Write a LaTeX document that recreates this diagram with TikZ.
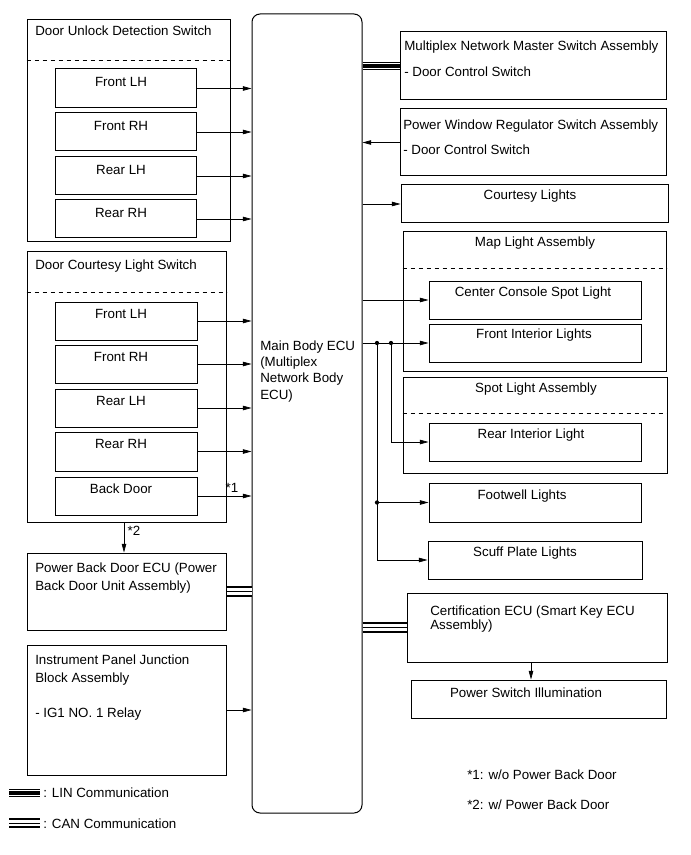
\documentclass[tikz,border=0pt]{standalone}
\usepackage{fontspec}
\setmainfont{Liberation Sans}
\usetikzlibrary{fit,arrows.meta,calc}
\begin{document}
\begin{tikzpicture}[x=0.75pt,y=-0.75pt,
  box/.style={draw, line width=0.75pt, inner sep=0pt},
  txt/.style={inner sep=0pt, text height=7.16pt, text depth=0pt, font=\fontsize{10}{12}\selectfont},
  lt/.style={txt, anchor=west},
  ct/.style={txt, anchor=center},
  arr/.style={line width=0.5pt, -{Triangle[length=6.5pt,width=3.4pt]}},
  ln/.style={line width=0.5pt},
  dsh/.style={line width=0.75pt, dash pattern=on 3.6pt off 2.4pt},
  linbus/.style={double=white, double distance=4.6pt, line width=0.8pt},
  linmid/.style={line width=3.4pt},
  canbus/.style={double=white, double distance=5.0pt, line width=1.3pt},
  canmid/.style={line width=0.55pt},
  jdot/.style={fill, circle, inner sep=0pt, minimum size=3.2pt}]
\useasboundingbox (0,0) rectangle (691,855);

% main ECU
\node[box, rounded corners=6pt, fit={(252,14) (362,813)}] (ecu) {};
\node[lt] (e1) at (260,346) {Main Body ECU};
\node[lt] (e2) at (260,362) {(Multiplex};
\node[lt] (e3) at (260,378) {Network Body};
\node[lt] (e4) at (260,395) {ECU)};

% Door Unlock Detection Switch
\node[box, fit={(27,20) (230,242)}] (duds) {};
\node[lt] (dudst) at (35,31) {Door Unlock Detection Switch};
\draw[dsh] (duds.west |- 0,61) -- (duds.east |- 0,61);
\node[box, fit={(55,69) (196,108)}] (u1) {};
\node[box, fit={(55,113) (196,151)}] (u2) {};
\node[box, fit={(55,157) (196,195)}] (u3) {};
\node[box, fit={(55,200) (196,238)}] (u4) {};
\node[ct] (u1t) at (121,82) {Front LH};
\node[ct] (u2t) at (121,126) {Front RH};
\node[ct] (u3t) at (121,170) {Rear LH};
\node[ct] (u4t) at (121,213) {Rear RH};
\foreach \n in {u1,u2,u3,u4} \draw[arr] (\n.east) -- (\n.east -| ecu.west);

% Door Courtesy Light Switch
\node[box, fit={(27,252) (226,522)}] (dcs) {};
\node[lt] (dcst) at (35,265) {Door Courtesy Light Switch};
\draw[dsh] (dcs.west |- 0,292) -- (dcs.east |- 0,292);
\node[box, fit={(55,302) (197,340)}] (c1) {};
\node[box, fit={(55,345) (197,383)}] (c2) {};
\node[box, fit={(55,389) (197,427)}] (c3) {};
\node[box, fit={(55,432) (197,471)}] (c4) {};
\node[box, fit={(55,477) (197,515)}] (c5) {};
\node[ct] (c1t) at (121,314) {Front LH};
\node[ct] (c2t) at (121,357) {Front RH};
\node[ct] (c3t) at (121,401) {Rear LH};
\node[ct] (c4t) at (121,444) {Rear RH};
\node[ct] (c5t) at (121,489) {Back Door};
\foreach \n in {c1,c2,c3,c4,c5} \draw[arr] (\n.east) -- (\n.east -| ecu.west);
\node[ct] (n1) at (232,488) {*1};

% Power Back Door ECU
\node[box, fit={(27,553) (226,630)}] (pbd) {};
\node[lt] (pbd1) at (35,568) {Power Back Door ECU (Power};
\node[lt] (pbd2) at (35,586) {Back Door Unit Assembly)};
\coordinate (x2) at (124,0);
\draw[arr] (dcs.south -| x2) -- (pbd.north -| x2);
\node[ct] (n2) at (134,531) {*2};
\draw[canbus] (pbd.east) -- (pbd.east -| ecu.west);
\draw[canmid] (pbd.east) -- (pbd.east -| ecu.west);

% Instrument Panel J/B
\node[box, fit={(27,645) (226,775)}] (ipj) {};
\node[lt] (ipj1) at (35,660) {Instrument Panel Junction};
\node[lt] (ipj2) at (35,678) {Block Assembly};
\node[lt] (ipj3) at (35,713) {- IG1 NO. 1 Relay};
\draw[arr] (ipj.east) -- (ipj.east -| ecu.west);

% legend
\coordinate (la) at (9,793); \coordinate (lb) at (40,793);
\draw[linbus] (la) -- (lb); \draw[linmid] (la) -- (lb);
\node[lt] (lint) at (43,793) {: LIN Communication};
\coordinate (ca) at (9,823); \coordinate (cb) at (40,823);
\draw[canbus] (ca) -- (cb); \draw[canmid] (ca) -- (cb);
\node[lt] (cant) at (43,824) {: CAN Communication};

% right side
\node[box, fit={(400,32) (666,100)}] (mm) {};
\node[lt] (mm1) at (404,46) {Multiplex Network Master Switch Assembly};
\node[lt] (mm2) at (404,72) {- Door Control Switch};
\draw[linbus] (ecu.east |- mm.west) -- (mm.west);
\draw[linmid] (ecu.east |- mm.west) -- (mm.west);

\node[box, fit={(400,109) (666,176)}] (pw) {};
\node[lt] (pw1) at (403,125) {Power Window Regulator Switch Assembly};
\node[lt] (pw2) at (403,150) {- Door Control Switch};
\draw[arr] (pw.west) -- (pw.west -| ecu.east);

\node[box, fit={(401,185) (668,223)}] (cl) {};
\node[ct] (clt) at (530,195) {Courtesy Lights};
\draw[arr] (ecu.east |- cl.west) -- (cl.west);

\node[box, fit={(403,232) (666,371)}] (mla) {};
\node[ct] (mlat) at (535,242) {Map Light Assembly};
\draw[dsh] (mla.west |- 0,269) -- (mla.east |- 0,269);
\node[box, fit={(429,281) (641,319)}] (ccs) {};
\node[ct] (ccst) at (533,292) {Center Console Spot Light};
\node[box, fit={(429,324) (641,362)}] (fil) {};
\node[ct] (filt) at (534,334) {Front Interior Lights};
\draw[arr] (ecu.east |- ccs.west) -- (ccs.west);
\draw[arr] (ecu.east |- fil.west) -- (fil.west);

\node[box, fit={(403,377) (667,473)}] (sla) {};
\node[ct] (slat) at (536,388) {Spot Light Assembly};
\draw[dsh] (sla.west |- 0,413) -- (sla.east |- 0,413);
\node[box, fit={(429,423) (641,461)}] (ril) {};
\node[ct] (rilt) at (531,434) {Rear Interior Light};

\node[box, fit={(429,483) (641,522)}] (fw) {};
\node[ct] (fwt) at (522,495) {Footwell Lights};
\node[box, fit={(428,541) (642,579)}] (sp) {};
\node[ct] (spt) at (525,552) {Scuff Plate Lights};

\coordinate (xj1) at (377,0);
\coordinate (xj2) at (391,0);
\coordinate (j1) at (fil.west -| xj1);
\coordinate (j2) at (fil.west -| xj2);
\coordinate (j3) at (fw.west -| xj1);
\draw[arr] (j2) |- (ril.west);
\draw[arr] (j1) |- (sp.west);
\draw[arr] (j3) -- (fw.west);
\node[jdot] (d1) at (j1) {};
\node[jdot] (d2) at (j2) {};
\node[jdot] (d3) at (j3) {};

\node[box, fit={(407,593) (667,662)}] (cert) {};
\node[lt] (cert1) at (430,610.5) {Certification ECU (Smart Key ECU};
\node[lt] (cert2) at (430,625) {Assembly)};
\draw[canbus] (ecu.east |- cert.west) -- (cert.west);
\draw[canmid] (ecu.east |- cert.west) -- (cert.west);

\node[box, fit={(411,680) (666,718)}] (psi) {};
\node[ct] (psit) at (526,693) {Power Switch Illumination};
\coordinate (xps) at (531,0);
\draw[arr] (cert.south -| xps) -- (psi.north -| xps);

% footnotes
\node[lt] (f1) at (467,775) {*1: w/o Power Back Door};
\node[lt] (f2) at (467,805) {*2: w/ Power Back Door};
\end{tikzpicture}
\end{document}
